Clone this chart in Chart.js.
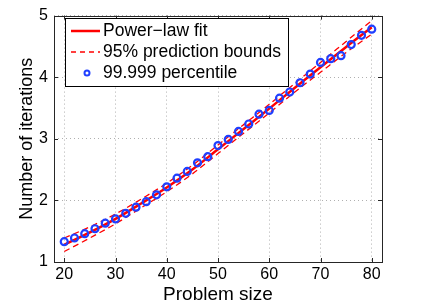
<!DOCTYPE html>
<html lang="en">
<head>
  <meta charset="utf-8"/>
  <title>Iterations vs problem size</title>
  <script src="https://cdn.jsdelivr.net/npm/chart.js"></script>
  <style>
    html, body { margin: 0; padding: 0; background: #fff; }
    #wrap { width: 423px; height: 307px; }
  </style>
</head>
<body>
<div id="wrap"><canvas id="chart" width="423" height="307"></canvas></div>
<script>
  // observed 99.999 percentile, problem size 20..80 step 2
  const sizes = [20, 22, 24, 26, 28, 30, 32, 34, 36, 38, 40, 42, 44, 46, 48, 50,
                 52, 54, 56, 58, 60, 62, 64, 66, 68, 70, 72, 74, 76, 78, 80];
  const percentile = [1.33, 1.39, 1.46, 1.54, 1.63, 1.70, 1.79, 1.89, 1.98, 2.09, 2.22,
                      2.36, 2.47, 2.61, 2.71, 2.89, 2.99, 3.12, 3.24, 3.40, 3.46,
                      3.66, 3.76, 3.91, 4.05, 4.24, 4.30, 4.35, 4.53, 4.68, 4.78];

  // fit curve and bounds
  const fitX = [20, 25, 30, 35, 40, 45, 50, 55, 60, 65, 70, 75, 80];
  const fitY = [1.28, 1.48, 1.70, 1.95, 2.21, 2.50, 2.83, 3.16, 3.49, 3.83, 4.16, 4.49, 4.81];
  const upperY = [1.39, 1.57, 1.78, 2.02, 2.28, 2.57, 2.90, 3.23, 3.56, 3.90, 4.24, 4.58, 4.92];
  const lowerY = [1.17, 1.39, 1.62, 1.88, 2.14, 2.43, 2.76, 3.09, 3.42, 3.76, 4.08, 4.40, 4.70];

  const xTicks = [20, 30, 40, 50, 60, 70, 80];
  const yTicks = [1, 2, 3, 4, 5];

  const pts = (xs, ys) => xs.map((x, i) => ({ x: x, y: ys[i] }));
  const FONT = "'Liberation Sans', Arial, sans-serif";

  // box, inward ticks and the legend, MATLAB style
  const matlabFrame = {
    id: 'matlabFrame',
    afterDraw(chart) {
      const { ctx, chartArea: a, scales } = chart;
      ctx.save();
      ctx.strokeStyle = '#262626';
      ctx.lineWidth = 1;
      ctx.beginPath();
      xTicks.forEach(v => {
        const px = Math.round(scales.x.getPixelForValue(v)) + 0.5;
        ctx.moveTo(px, a.bottom); ctx.lineTo(px, a.bottom - 4);
        ctx.moveTo(px, a.top); ctx.lineTo(px, a.top + 4);
      });
      yTicks.forEach(v => {
        const py = Math.round(scales.y.getPixelForValue(v)) + 0.5;
        ctx.moveTo(a.left, py); ctx.lineTo(a.left + 4, py);
        ctx.moveTo(a.right, py); ctx.lineTo(a.right - 4, py);
      });
      ctx.stroke();
      ctx.strokeRect(Math.round(a.left) + 0.5, Math.round(a.top) + 0.5,
                     Math.round(a.right - a.left), Math.round(a.bottom - a.top));

      // legend
      const lx = 65.5, ly = 18.5, lw = 223, lh = 68;
      ctx.fillStyle = '#fff';
      ctx.fillRect(lx, ly, lw, lh);
      ctx.strokeStyle = '#000';
      ctx.strokeRect(lx, ly, lw, lh);
      const rows = [31, 52, 73];
      ctx.strokeStyle = '#ff0000';
      ctx.lineWidth = 2.5;
      ctx.beginPath(); ctx.moveTo(71, rows[0]); ctx.lineTo(100, rows[0]); ctx.stroke();
      ctx.lineWidth = 1.3;
      ctx.setLineDash([5, 4]);
      ctx.beginPath(); ctx.moveTo(71, rows[1]); ctx.lineTo(100, rows[1]); ctx.stroke();
      ctx.setLineDash([]);
      ctx.strokeStyle = '#1f3fff';
      ctx.lineWidth = 2;
      ctx.beginPath(); ctx.arc(87, rows[2], 2.5, 0, Math.PI * 2); ctx.stroke();
      ctx.fillStyle = '#000';
      ctx.font = '17.5px ' + FONT;
      ctx.textBaseline = 'middle';
      ctx.fillText('Power\u2212law fit', 103, rows[0]);
      ctx.fillText('95% prediction bounds', 103, rows[1]);
      ctx.fillText('99.999 percentile', 103, rows[2]);
      ctx.restore();
    }
  };

  new Chart(document.getElementById('chart'), {
    type: 'scatter',
    data: {
      datasets: [
        {
          label: '99.999 percentile',
          data: pts(sizes, percentile),
          showLine: false,
          pointRadius: 3.5,
          pointBorderWidth: 2.2,
          pointBorderColor: '#1f3fff',
          pointBackgroundColor: 'rgba(0,0,0,0)',
          order: 0
        },
        {
          label: 'Power-law fit',
          data: pts(fitX, fitY),
          showLine: true,
          borderColor: '#ff0000',
          borderWidth: 2.5,
          pointRadius: 0,
          cubicInterpolationMode: 'monotone',
          order: 1
        },
        {
          label: '95% prediction bounds',
          data: pts(fitX, upperY),
          showLine: true,
          borderColor: '#ff0000',
          borderWidth: 1.3,
          borderDash: [6, 4],
          pointRadius: 0,
          cubicInterpolationMode: 'monotone',
          order: 2
        },
        {
          label: '95% prediction bounds (lower)',
          data: pts(fitX, lowerY),
          showLine: true,
          borderColor: '#ff0000',
          borderWidth: 1.3,
          borderDash: [6, 4],
          pointRadius: 0,
          cubicInterpolationMode: 'monotone',
          order: 2
        }
      ]
    },
    options: {
      responsive: false,
      animation: false,
      layout: { padding: { top: 13, right: 41, left: 0, bottom: 0 } },
      plugins: { legend: { display: false }, tooltip: { enabled: false } },
      scales: {
        x: {
          min: 18, max: 82,
          afterBuildTicks: s => { s.ticks = xTicks.map(v => ({ value: v })); },
          afterFit: s => { s.height = 45; },
          ticks: { color: '#000', font: { size: 16, family: FONT }, padding: 3, maxRotation: 0 },
          grid: { color: '#b0b0b0', lineWidth: 1, drawTicks: false },
          border: { display: false, dash: [1, 3] },
          title: { display: true, text: 'Problem size', color: '#000',
                   font: { size: 19, family: FONT }, padding: { top: 0, bottom: 1 } }
        },
        y: {
          min: 1, max: 5,
          afterBuildTicks: s => { s.ticks = yTicks.map(v => ({ value: v })); },
          afterFit: s => { s.width = 54; },
          ticks: { color: '#000', font: { size: 16, family: FONT }, padding: 6 },
          grid: { color: '#b0b0b0', lineWidth: 1, drawTicks: false },
          border: { display: false, dash: [1, 3] },
          title: { display: true, text: 'Number of iterations', color: '#000',
                   font: { size: 18, family: FONT }, padding: { top: 16, bottom: 0 } }
        }
      }
    },
    plugins: [matlabFrame]
  });
</script>
</body>
</html>
